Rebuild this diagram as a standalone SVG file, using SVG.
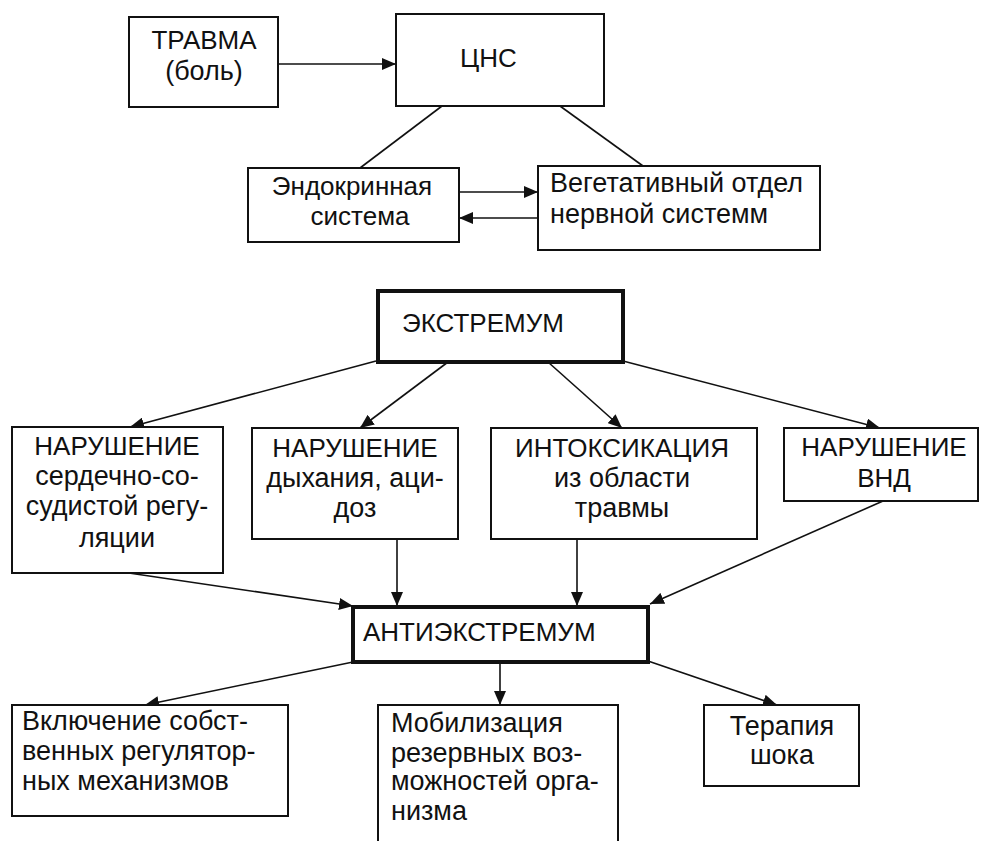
<svg xmlns="http://www.w3.org/2000/svg" width="981" height="841" viewBox="0 0 981 841">
<style>
.b{fill:#fff;stroke:#111;stroke-width:2}
.k{fill:#fff;stroke:#111;stroke-width:4}
text{font-family:"Liberation Sans",Arial,sans-serif;font-size:26px;fill:#111}
.c{text-anchor:middle}
.l{font-size:27px}
.ln{stroke:#111;stroke-width:1.6;fill:none}
.ar{marker-end:url(#ah)}
</style>
<defs>
<marker id="ah" markerUnits="userSpaceOnUse" markerWidth="15" markerHeight="12" refX="14" refY="6" orient="auto">
<path d="M0,0 L14,6 L0,12 z" fill="#111"/>
</marker>
</defs>
<rect width="981" height="841" fill="#fff"/>
<g id="connectors">
<line class="ln ar" x1="278" y1="64" x2="396" y2="64"/>
<line class="ln" x1="442" y1="106" x2="360" y2="168"/>
<line class="ln" x1="560" y1="106" x2="643" y2="166"/>
<line class="ln ar" x1="459" y1="192" x2="538" y2="192"/>
<line class="ln ar" x1="542" y1="218" x2="459" y2="218"/>
<line class="ln ar" x1="376" y1="361" x2="130" y2="427"/>
<line class="ln ar" x1="448" y1="362" x2="360" y2="428"/>
<line class="ln ar" x1="548" y1="362" x2="622" y2="428"/>
<line class="ln ar" x1="623" y1="361" x2="880" y2="428"/>
<line class="ln ar" x1="122" y1="572" x2="353" y2="606"/>
<line class="ln ar" x1="397" y1="539" x2="397" y2="606"/>
<line class="ln ar" x1="577" y1="539" x2="577" y2="606"/>
<line class="ln ar" x1="883" y1="501" x2="650" y2="604"/>
<line class="ln ar" x1="353" y1="662" x2="145" y2="705"/>
<line class="ln ar" x1="500" y1="658" x2="500" y2="705"/>
<line class="ln ar" x1="648" y1="661" x2="777" y2="705"/>
</g>
<g id="travma">
<rect class="b" x="129" y="17" width="149" height="90"/>
<text class="c" x="204" y="49">ТРАВМА</text>
<text class="c l" x="204" y="80">(боль)</text>
</g>
<g id="cns">
<rect class="b" x="396" y="14" width="208" height="92"/>
<text x="460" y="67">ЦНС</text>
</g>
<g id="endo">
<rect class="b" x="248" y="168" width="211" height="74"/>
<text class="c" x="352" y="195">Эндокринная</text>
<text class="c" x="360" y="225">система</text>
</g>
<g id="veg">
<rect class="b" x="538" y="166" width="282" height="84"/>
<text class="l" x="550" y="192">Вегетативный отдел</text>
<text class="l" x="550" y="223">нервной системм</text>
</g>
<g id="extremum">
<rect class="k" x="378" y="291" width="245" height="71"/>
<text x="402" y="332">ЭКСТРЕМУМ</text>
</g>
<g id="n1">
<rect class="b" x="12" y="427" width="211" height="146"/>
<text class="c" x="117" y="455">НАРУШЕНИЕ</text>
<text class="c l" x="117" y="485">сердечно-со-</text>
<text class="c l" x="117" y="515">судистой регу-</text>
<text class="c l" x="117" y="547">ляции</text>
</g>
<g id="n2">
<rect class="b" x="252" y="428" width="206" height="111"/>
<text class="c" x="355" y="457">НАРУШЕНИЕ</text>
<text class="c l" x="355" y="487">дыхания, аци-</text>
<text class="c l" x="355" y="517">доз</text>
</g>
<g id="intox">
<rect class="b" x="491" y="428" width="266" height="111"/>
<text class="c" x="622" y="457">ИНТОКСИКАЦИЯ</text>
<text class="c l" x="622" y="487">из области</text>
<text class="c l" x="622" y="517">травмы</text>
</g>
<g id="vnd">
<rect class="b" x="784" y="428" width="194" height="73"/>
<text class="c" x="884" y="456">НАРУШЕНИЕ</text>
<text class="c" x="884" y="487">ВНД</text>
</g>
<g id="anti">
<rect class="k" x="353" y="607" width="295" height="55"/>
<text x="363" y="641">АНТИЭКСТРЕМУМ</text>
</g>
<g id="vkl">
<rect class="b" x="12" y="705" width="276" height="111"/>
<text class="l" x="22" y="730">Включение собст-</text>
<text class="l" x="22" y="760">венных регулятор-</text>
<text class="l" x="22" y="790">ных механизмов</text>
</g>
<g id="mob">
<rect class="b" x="378" y="705" width="240" height="150"/>
<text class="l" x="391" y="732">Мобилизация</text>
<text class="l" x="391" y="762">резервных воз-</text>
<text class="l" x="391" y="790">можностей орга-</text>
<text class="l" x="391" y="820">низма</text>
</g>
<g id="ter">
<rect class="b" x="704" y="705" width="155" height="81"/>
<text class="c l" x="782" y="735">Терапия</text>
<text class="c l" x="782" y="764">шока</text>
</g>
</svg>
